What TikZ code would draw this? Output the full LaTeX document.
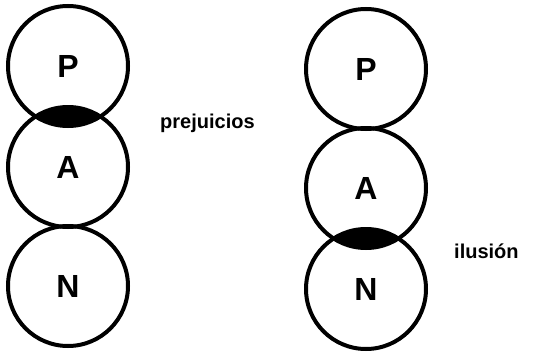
\documentclass[tikz,border=0pt]{standalone}
\usepackage{fontspec}
\setmainfont{Liberation Sans}
\usetikzlibrary{positioning}

\begin{document}
\begin{tikzpicture}[x=1pt, y=1pt,
  ball/.style={circle, draw, line width=4pt, minimum size=120pt, inner sep=0pt, font=\fontsize{32}{32}\selectfont\bfseries},
  lbl/.style={anchor=base west, inner sep=0pt, font=\fontsize{20}{20}\selectfont\bfseries}]
  \useasboundingbox (0,0) rectangle (541,-356);
  % left column
  \node[ball] at (68,-66) (p1) {P};
  \node[ball] at (68,-167) (a1) {A};
  \node[ball] at (68,-286) (n1) {N};
  \begin{scope}
    \clip (p1.center) circle (60pt);
    \fill (a1.center) circle (60pt);
  \end{scope}
  \node[lbl] at (160,-128) (prej) {prejuicios};
  % right column
  \node[ball] at (366,-69) (p2) {P};
  \node[ball] at (366,-188) (a2) {A};
  \node[ball] at (366,-289) (n2) {N};
  \begin{scope}
    \clip (a2.center) circle (60pt);
    \fill (n2.center) circle (60pt);
  \end{scope}
  \node[lbl] at (454,-258) (ilus) {ilusión};
\end{tikzpicture}
\end{document}
